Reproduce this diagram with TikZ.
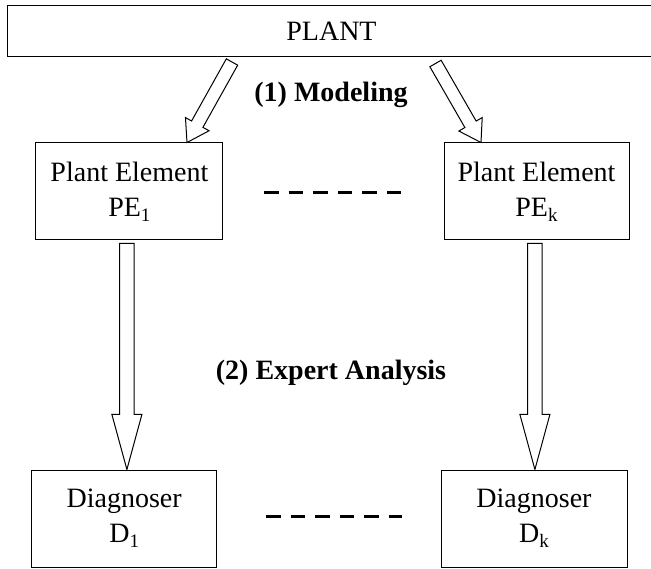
\documentclass[tikz,border=0pt]{standalone}
\usepackage{fontspec}
\setmainfont{Liberation Serif}
\usepackage{tikz}
\usetikzlibrary{calc}
\tikzstyle{box} = [draw, line width=1pt, inner sep=0, align=center, minimum height=97pt]
\tikzstyle{gap} = [-, line width=3pt, dash pattern=on 14.5pt off 10pt]
\tikzstyle{step label} = [draw=none, anchor=base, font=\fontsize{28}{35}\selectfont\bfseries]
% hollow block arrow: shaft half width, head length, head half width
\tikzset{blk/.style n args={3}{draw, fill=white, line width=1pt, line join=miter,
  to path={-- ($(\tikztostart)!#1!90:(\tikztotarget)$)
    -- ($(\tikztotarget)!#2!(\tikztostart)!#1!-90:(\tikztostart)$)
    -- ($(\tikztotarget)!#2!(\tikztostart)!#3!-90:(\tikztostart)$)
    -- (\tikztotarget)
    -- ($(\tikztotarget)!#2!(\tikztostart)!#3!90:(\tikztostart)$)
    -- ($(\tikztotarget)!#2!(\tikztostart)!#1!90:(\tikztostart)$)
    -- ($(\tikztostart)!#1!-90:(\tikztotarget)$) -- cycle}}}
\newcommand{\idx}[1]{\raisebox{-5pt}{\fontsize{19}{19}\selectfont #1}}

\begin{document}
\begin{tikzpicture}[x=1pt, y=-1pt, font=\fontsize{28}{35}\selectfont]
\useasboundingbox (0,0) rectangle (651,569);
\node [box, minimum width=649pt, minimum height=51pt] (plant) at (331.5, 31.5) {PLANT};
\node [box, minimum width=187pt] (pe1) at (129.4, 191.5) {Plant Element\\PE\idx{1}};
\node [box, minimum width=185pt] (pek) at (536.5, 191.5) {Plant Element\\PE\idx{k}};
\node [box, minimum width=185pt] (d1) at (124.2, 518.5) {Diagnoser\\D\idx{1}};
\node [box, minimum width=186pt] (dk) at (534, 518.5) {Diagnoser\\D\idx{k}};
\node [step label] (model) at (331, 102) {(1) Modeling};
\node [step label] (expert) at (331, 380) {(2) Expert Analysis};
\coordinate (m1) at ($(plant.south west)+(225.5, 4.5)$);
\coordinate (mk) at ($(plant.south west)+(429, 6)$);
\coordinate (a1) at ($(pe1.north)+(57.6, 0)$);
\coordinate (ak) at ($(pek.north)+(-55.5, 0)$);
\coordinate (s1) at ([xshift=-2.5pt, yshift=-3pt]pe1.south);
\coordinate (sk) at ([xshift=-1.6pt, yshift=-3pt]pek.south);
\coordinate (t1) at (s1 |- d1.north);
\coordinate (tk) at (sk |- dk.north);
\draw [blk={6.5pt}{21pt}{13.5pt}] (m1) to (a1);
\draw [blk={6.5pt}{21pt}{13.5pt}] (mk) to (ak);
\draw [blk={7.25pt}{55pt}{15pt}] (s1) to (t1);
\draw [blk={7.25pt}{55pt}{15pt}] (sk) to (tk);
\draw [gap] ([xshift=41pt, yshift=-1.5pt]pe1.east) to ([xshift=-43pt, yshift=-1.5pt]pek.west);
\draw [gap] ([xshift=49pt, yshift=2.5pt]d1.east) to ([xshift=-39pt, yshift=2.5pt]dk.west);
\end{tikzpicture}
\end{document}
